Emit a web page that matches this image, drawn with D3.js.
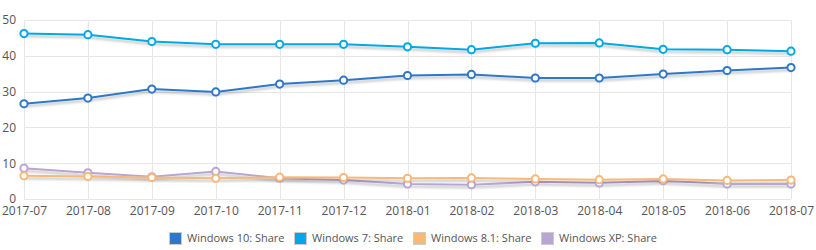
<!DOCTYPE html>
<html>
<head>
<meta charset="utf-8">
<script src="https://cdn.jsdelivr.net/npm/d3@7"></script>
<style>
  body { margin: 0; background: #fff; }
  svg { display: block; font-family: "Open Sans", sans-serif; }
</style>
</head>
<body>
<div id="container"></div>
<script>
// mois (axe x)
const months = ["2017-07", "2017-08", "2017-09", "2017-10", "2017-11", "2017-12",
    "2018-01", "2018-02", "2018-03", "2018-04", "2018-05", "2018-06", "2018-07"];

// parts de marché
const win10 = [26.6, 28.2, 30.7, 29.9, 32.1, 33.2, 34.5, 34.8, 33.8, 33.8, 34.9, 35.9, 36.7];
const win7 = [46.2, 45.9, 44.0, 43.2, 43.2, 43.2, 42.5, 41.7, 43.5, 43.6, 41.8, 41.7, 41.3];
const win81 = [6.5, 6.3, 6.0, 5.8, 6.1, 6.0, 5.8, 5.9, 5.6, 5.4, 5.6, 5.2, 5.3];
const winxp = [8.6, 7.3, 6.2, 7.7, 5.8, 5.3, 4.2, 4.0, 4.8, 4.5, 5.1, 4.2, 4.2];

const yTicks = [0, 10, 20, 30, 40, 50];

const series = [
    { name: "Windows 10: Share", values: win10, color: "#2f78c9" },
    { name: "Windows 7: Share", values: win7, color: "#00a9e6" },
    { name: "Windows 8.1: Share", values: win81, color: "#f8b877" },
    { name: "Windows XP: Share", values: winxp, color: "#b9a5d3" }
];

const width = 816;
const height = 250;
const margin = { top: 20, right: 25, bottom: 51, left: 24 };

const x = d3.scalePoint()
    .domain(months)
    .range([margin.left, width - margin.right]);

const y = d3.scaleLinear()
    .domain([0, 50])
    .range([height - margin.bottom, margin.top]);

const svg = d3.create("svg")
    .attr("width", width)
    .attr("height", height);

// ombre sous les lignes
const filter = svg.append("defs").append("filter")
    .attr("id", "shadow")
    .attr("x", "-5%").attr("y", "-50%")
    .attr("width", "110%").attr("height", "200%");
filter.append("feDropShadow")
    .attr("dx", 0).attr("dy", 2.5)
    .attr("stdDeviation", 1.2)
    .attr("flood-color", "#000")
    .attr("flood-opacity", 0.25);

// grille
const grid = svg.append("g").attr("stroke", "#e6e6e6").attr("stroke-width", 1);
grid.selectAll("line.h")
    .data(yTicks)
    .join("line")
    .attr("class", "h")
    .attr("x1", margin.left).attr("x2", width - margin.right)
    .attr("y1", d => Math.round(y(d)) + 0.5).attr("y2", d => Math.round(y(d)) + 0.5);
grid.selectAll("line.v")
    .data(months)
    .join("line")
    .attr("class", "v")
    .attr("x1", d => Math.round(x(d)) + 0.5).attr("x2", d => Math.round(x(d)) + 0.5)
    .attr("y1", y(50)).attr("y2", y(0));

// axes
const yAxis = d3.axisLeft(y).tickValues(yTicks).tickSize(0).tickPadding(8);
svg.append("g")
    .attr("transform", `translate(${margin.left},0)`)
    .call(yAxis)
    .call(g => g.select(".domain").remove())
    .call(g => g.selectAll("text").attr("fill", "#555").attr("font-size", 12).attr("font-family", "Open Sans"));

const xAxis = d3.axisBottom(x).tickSize(0).tickPadding(7.5);
svg.append("g")
    .attr("transform", `translate(0,${y(0)})`)
    .call(xAxis)
    .call(g => g.select(".domain").remove())
    .call(g => g.selectAll("text").attr("fill", "#555").attr("font-size", 12).attr("font-family", "Open Sans"));

// lignes
const line = d3.line()
    .x((d, i) => x(months[i]))
    .y(d => y(d));

const sg = svg.append("g")
    .selectAll("g")
    .data(series.slice().reverse())
    .join("g");

sg.append("path")
    .attr("d", d => line(d.values))
    .attr("fill", "none")
    .attr("stroke", d => d.color)
    .attr("stroke-width", 2)
    .attr("filter", "url(#shadow)");

sg.selectAll("circle")
    .data(d => d.values.map((v, i) => ({ v, i, color: d.color })))
    .join("circle")
    .attr("cx", d => x(months[d.i]))
    .attr("cy", d => y(d.v))
    .attr("r", 3.6)
    .attr("fill", "#fff")
    .attr("stroke", d => d.color)
    .attr("stroke-width", 2);

// légende
const legendX = [169, 294, 413, 541];
const legend = svg.append("g")
    .selectAll("g")
    .data(series)
    .join("g")
    .attr("transform", (d, i) => `translate(${legendX[i]},232)`);

legend.append("rect")
    .attr("x", 0.5).attr("y", 0.5)
    .attr("width", 12).attr("height", 12)
    .attr("fill", d => d.color)
    .attr("stroke", "#ccc")
    .attr("stroke-width", 1);

legend.append("text")
    .attr("x", 18)
    .attr("y", 6.5)
    .attr("dy", "0.35em")
    .attr("font-size", 11)
    .attr("fill", "#555")
    .text(d => d.name);

d3.select("#container").node().append(svg.node());
</script>
</body>
</html>
